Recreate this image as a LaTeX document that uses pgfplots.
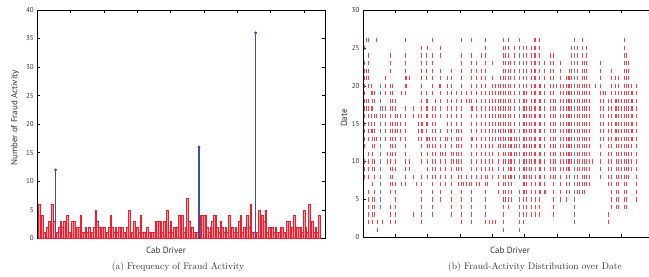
\documentclass[border=0pt]{standalone}
\usepackage{pgfplots}
\pgfplotsset{compat=1.18}
\usepackage{fontspec}
\setsansfont{PT Sans}
\definecolor{barred}{rgb}{0.93,0.12,0.18}
\definecolor{dashred}{rgb}{0.95,0.25,0.30}
\definecolor{barpink}{rgb}{0.98,0.62,0.66}
\definecolor{stemblue}{rgb}{0.22,0.32,0.66}
\definecolor{dashblue}{rgb}{0.38,0.48,0.75}
\definecolor{txt}{gray}{0.2}
\pgfplotsset{
  myax/.style={
    scale only axis,
    axis line style={black, line width=0.6bp},
    tick style={black, line width=0.5bp},
    major tick length=3bp,
    tick align=inside,
    xticklabels={},
    xtick={0,20,...,160},
    ticklabel style={font=\sffamily\fontsize{7}{8}\selectfont, text=txt},
    /pgf/number format/assume math mode=true,
    clip=true,
  }
}
\begin{document}
\begin{tikzpicture}
% ---------------- (a) ----------------
\begin{axis}[myax,
  at={(37.3bp,38.7bp)}, anchor=south west,
  width=287.7bp, height=228.3bp,
  xmin=0, xmax=172.6, ymin=0, ymax=40,
  ytick={0,5,...,40},
]
\addplot[ybar, bar width=1, bar shift=0pt, fill=barpink, draw=barred, line width=0.5bp] coordinates {
(1,6)(2,1)(3,4)(4,1)(5,1)(6,2)(7,3)(8,1)(9,6)(10,3)
(12,1)(13,2)(14,3)(15,2)(16,3)(17,2)(18,4)(19,1)(20,1)
(21,3)(22,3)(23,2)(24,2)(25,2)(26,4)(27,1)(28,1)(29,2)(30,1)
(31,2)(32,1)(33,1)(34,2)(35,5)(36,3)(37,2)(38,2)(39,2)(40,2)
(41,1)(42,1)(43,2)(44,4)(45,2)(46,1)(47,2)(48,1)(49,2)(50,1)
(51,2)(52,1)(53,1)(54,2)(55,5)(56,1)(57,1)(58,3)(59,1)(60,2)
(61,1)(62,4)(63,1)(64,1)(65,1)(66,2)(67,1)(68,1)(69,1)(70,1)
(71,3)(72,3)(73,3)(74,3)(75,1)(76,3)(77,3)(78,5)(79,1)(80,3)
(81,1)(82,2)(83,1)(84,2)(85,4)(86,1)(87,4)(88,1)(89,2)(90,7)
(91,3)(92,1)(93,2)(94,1)(95,1)(96,1)(98,4)(99,4)(100,4)
(101,4)(102,2)(103,1)(104,2)(105,3)(106,4)(107,4)(108,2)(109,1)(110,3)
(111,2)(112,1)(113,2)(114,1)(115,4)(116,1)(117,2)(118,1)(119,2)(120,1)
(121,3)(122,4)(123,1)(124,2)(125,2)(126,4)(127,2)(128,6)(129,1)(130,1)
(132,1)(133,5)(134,1)(135,4)(136,3)(137,5)(138,1)(139,2)(140,1)
(141,2)(142,1)(143,2)(144,1)(145,1)(146,2)(147,2)(148,1)(149,1)(150,3)
(151,3)(152,2)(153,2)(154,4)(155,2)(156,2)(157,2)(158,2)(159,1)(160,5)
(161,2)(162,1)(163,6)(164,2)(165,3)(166,1)(167,2)(168,1)(169,4)
};
\addplot[ycomb, stemblue, line width=1.2bp, mark=*, mark size=0.7bp] coordinates {(11,12)(97,16)(131,36)};
\end{axis}
% ---------------- (b) ----------------
\begin{axis}[myax,
  at={(363bp,39.7bp)}, anchor=south west,
  width=290.7bp, height=227.3bp,
  xmin=0, xmax=180, ymin=0, ymax=30,
  ytick={0,5,...,30},
]
\addplot[only marks, mark=|, mark size=2.1bp, color=dashred, mark options={line width=0.7bp}] coordinates {
(1,8)(1,9)(1,10)(1,12)(1,13)(1,14)(1,15)(1,16)(1,17)(1,18)(1,19)(1,20)(1,21)(1,22)(1,23)(1,25)
(2,17)(2,18)(2,21)(2,22)(2,26)
(3,2)(3,3)(3,4)(3,5)(3,6)(3,8)(3,9)(3,10)(3,11)(3,13)(3,14)(3,15)(3,16)(3,17)(3,18)(3,20)(3,21)(3,22)(3,23)(3,24)(3,26)
(5,14)(5,15)(5,16)(5,17)(5,19)(5,20)
(6,2)(6,3)(6,4)(6,5)(6,7)(6,9)(6,10)(6,11)(6,12)(6,13)(6,14)(6,17)(6,18)(6,19)
(7,3)(7,4)(7,5)(7,6)(7,8)(7,9)(7,10)(7,12)(7,13)(7,14)(7,15)(7,16)(7,18)(7,19)
(8,13)(8,16)(8,26)
(9,1)(9,2)
(12,2)(12,16)(12,17)
(14,13)(14,14)(14,15)(14,16)(14,17)(14,19)(14,20)(14,21)
(15,10)(15,11)
(17,2)(17,3)(17,4)(17,6)(17,7)(17,8)(17,9)(17,10)(17,11)(17,12)(17,13)(17,14)(17,15)(17,16)(17,17)(17,18)(17,19)(17,20)(17,22)(17,23)(17,24)
(18,7)(18,8)(18,9)(18,11)(18,12)(18,13)(18,14)(18,15)(18,17)(18,18)(18,19)(18,20)
(20,2)(20,3)(20,4)(20,5)(20,6)(20,7)(20,9)(20,10)(20,11)(20,12)(20,13)(20,14)(20,15)(20,16)(20,17)(20,18)
(21,14)(21,15)(21,16)
(23,13)(23,14)(23,15)(23,16)
(24,7)(24,19)
(26,7)(26,8)(26,9)(26,10)(26,11)(26,12)(26,13)(26,14)(26,15)(26,16)(26,17)(26,19)(26,20)(26,21)(26,22)(26,23)(26,24)(26,26)
(27,20)(27,21)
(29,9)(29,10)(29,21)
(31,3)(31,8)(31,16)(31,17)
(33,7)
(34,13)(34,14)(34,15)(34,16)
(36,2)(36,3)(36,4)(36,5)(36,6)(36,7)(36,8)(36,10)(36,11)(36,12)(36,13)(36,14)(36,15)(36,16)(36,17)(36,18)(36,19)(36,20)(36,21)(36,22)(36,23)(36,24)(36,25)
(37,14)(37,15)
(39,13)(39,14)(39,15)(39,16)(39,17)(39,18)(39,19)(39,21)(39,22)(39,23)(39,24)
(40,8)(40,9)(40,10)(40,11)(40,12)(40,13)(40,15)(40,16)(40,17)(40,18)(40,25)
(41,12)(41,13)
(43,3)(43,4)(43,5)(43,6)(43,7)(43,8)(43,9)(43,10)(43,11)(43,12)(43,13)(43,14)(43,15)(43,16)(43,17)(43,19)(43,20)(43,21)(43,22)(43,23)(43,24)(43,26)
(45,8)(45,9)(45,10)(45,11)(45,12)(45,13)(45,14)(45,15)(45,16)(45,17)(45,18)
(47,20)
(48,5)(48,6)(48,7)(48,8)(48,9)(48,10)(48,11)(48,12)(48,13)(48,14)(48,16)(48,17)(48,18)(48,19)(48,20)(48,21)(48,22)(48,24)(48,25)
(49,11)
(51,7)(51,8)(51,9)(51,10)(51,11)(51,12)(51,13)
(52,13)(52,14)(52,15)(52,16)(52,17)(52,18)(52,19)(52,20)(52,21)
(55,3)(55,4)(55,5)(55,6)(55,7)(55,8)(55,9)(55,10)(55,11)(55,12)(55,13)(55,14)(55,15)(55,16)(55,17)(55,18)(55,19)(55,20)(55,21)(55,22)
(56,10)(56,11)
(58,9)(58,10)(58,11)(58,12)(58,13)(58,14)(58,15)(58,16)(58,17)(58,18)(58,19)
(59,7)(59,8)(59,9)(59,10)(59,11)(59,12)(59,13)(59,14)
(61,2)(61,3)(61,4)(61,5)(61,6)(61,7)(61,8)(61,9)(61,10)(61,11)(61,12)(61,13)(61,14)(61,15)(61,16)(61,17)(61,18)(61,19)(61,20)(61,21)(61,22)(61,23)(61,24)(61,26)
(62,7)
(64,7)(64,8)(64,18)(64,19)
(66,7)(66,18)
(67,2)(67,3)(67,4)(67,5)(67,6)(67,7)(67,8)(67,9)(67,10)(67,11)(67,12)(67,13)(67,14)(67,15)(67,16)(67,17)(67,18)(67,19)(67,20)(67,21)(67,22)(67,23)(67,24)(67,26)
(68,13)(68,17)
(70,7)(70,8)(70,9)(70,10)(70,11)(70,12)(70,13)(70,14)(70,15)(70,16)(70,17)(70,18)(70,19)(70,20)(70,21)(70,22)(70,23)
(72,7)
(73,8)(73,9)(73,10)(73,11)(73,12)(73,13)(73,14)(73,15)(73,16)(73,17)(73,18)(73,19)(73,20)(73,21)(73,22)(73,24)
(76,2)(76,3)(76,4)(76,5)(76,6)(76,7)(76,8)(76,9)(76,10)(76,11)(76,12)(76,13)(76,14)(76,15)(76,16)(76,17)(76,18)(76,19)(76,20)(76,21)(76,22)(76,23)(76,24)(76,25)(76,26)
(77,7)(77,8)
(78,2)(78,9)(78,10)(78,11)(78,12)(78,13)(78,14)(78,15)(78,16)(78,17)(78,18)(78,19)
(80,2)(80,8)(80,9)(80,10)(80,11)(80,12)(80,13)(80,14)(80,15)(80,16)(80,17)(80,18)(80,19)(80,20)(80,21)(80,23)
(82,2)(82,13)(82,14)(82,15)(82,16)(82,17)(82,18)(82,19)(82,20)
(84,6)(84,7)(84,8)(84,9)(84,10)(84,11)(84,12)(84,13)(84,14)(84,15)(84,16)(84,17)(84,18)(84,19)(84,20)
(85,12)(85,13)(85,14)(85,15)(85,16)(85,17)(85,18)(85,19)(85,20)(85,21)
(87,1)(87,2)(87,3)(87,4)(87,5)(87,6)(87,7)(87,8)(87,9)(87,10)(87,11)(87,12)(87,13)(87,14)(87,15)(87,16)(87,17)(87,18)(87,19)(87,20)(87,21)(87,22)(87,23)(87,24)(87,25)(87,26)
(88,5)(88,6)(88,7)(88,8)(88,10)(88,11)(88,12)(88,13)(88,14)(88,15)(88,16)(88,17)(88,18)(88,19)(88,20)(88,21)(88,22)(88,23)(88,24)(88,25)
(90,4)(90,5)(90,6)(90,7)(90,8)(90,9)(90,10)(90,11)(90,12)(90,13)(90,14)(90,15)(90,16)(90,17)(90,18)(90,19)(90,20)(90,21)(90,22)(90,23)(90,24)(90,25)(90,26)
(91,8)(91,9)(91,10)(91,11)(91,12)(91,13)(91,14)(91,15)(91,16)(91,17)(91,18)(91,19)(91,20)(91,21)(91,22)(91,23)
(92,5)(92,6)(92,7)(92,8)(92,9)(92,10)(92,11)(92,12)(92,13)(92,14)
(94,8)(94,9)(94,10)(94,11)(94,12)(94,13)(94,14)(94,15)(94,16)(94,17)(94,18)(94,19)(94,20)(94,21)(94,22)(94,23)(94,24)(94,25)
(95,11)(95,12)(95,13)
(99,2)(99,3)(99,4)(99,5)(99,6)(99,7)(99,8)(99,9)(99,10)(99,11)(99,12)(99,13)(99,14)(99,15)(99,16)(99,17)(99,18)(99,19)(99,20)(99,21)(99,22)(99,23)(99,24)(99,25)
(100,6)(100,7)(100,8)(100,9)(100,10)(100,11)(100,12)(100,13)(100,14)(100,15)(100,16)(100,17)(100,18)(100,19)
(101,3)(101,4)(101,5)(101,6)(101,7)(101,8)(101,9)(101,10)(101,11)(101,12)(101,13)(101,14)(101,15)(101,16)(101,17)(101,18)(101,19)(101,20)(101,21)(101,22)(101,23)(101,24)(101,25)
(103,8)(103,9)(103,10)(103,11)(103,12)(103,13)(103,14)(103,15)(103,16)(103,17)
(104,3)(104,4)(104,5)(104,6)(104,7)(104,8)(104,9)(104,10)(104,11)(104,12)(104,13)(104,14)(104,15)(104,16)(104,17)(104,18)(104,19)(104,20)(104,21)(104,22)(104,23)(104,24)(104,25)
(106,10)(106,11)(106,12)(106,13)(106,14)(106,15)(106,16)(106,17)(106,18)(106,19)(106,20)(106,21)(106,22)(106,23)(106,24)(106,25)(106,26)
(107,3)(107,4)(107,5)(107,6)(107,7)(107,8)(107,9)(107,10)(107,11)(107,12)(107,13)(107,14)(107,15)(107,16)(107,17)(107,18)(107,19)(107,20)(107,21)(107,22)(107,23)(107,24)(107,25)(107,26)
(109,3)(109,4)(109,5)(109,6)(109,7)(109,8)(109,9)(109,10)(109,11)(109,12)(109,13)(109,14)(109,15)(109,16)(109,17)(109,18)(109,19)(109,20)(109,21)(109,22)(109,23)(109,24)(109,25)(109,26)
(110,6)(110,7)(110,8)(110,9)(110,10)(110,11)(110,12)(110,13)(110,14)(110,15)(110,16)(110,17)(110,18)(110,19)(110,20)
(112,6)(112,7)(112,8)(112,9)(112,10)(112,11)(112,12)(112,13)(112,14)(112,15)(112,16)(112,17)(112,18)(112,19)(112,20)(112,21)(112,22)(112,23)
(113,6)
(116,8)(116,9)(116,10)(116,11)(116,12)(116,13)(116,14)(116,15)(116,16)(116,17)(116,18)(116,19)(116,20)(116,21)(116,22)(116,23)(116,24)
(118,3)(118,4)(118,5)(118,6)(118,7)(118,8)(118,9)(118,10)(118,11)(118,12)(118,13)(118,14)(118,15)(118,16)(118,17)(118,18)(118,19)(118,20)(118,21)(118,22)(118,23)(118,24)
(119,8)(119,9)(119,10)(119,11)(119,12)(119,13)(119,14)(119,15)(119,16)(119,17)(119,18)
(120,20)
(122,5)(122,6)(122,7)(122,8)(122,9)(122,10)(122,11)(122,12)(122,13)(122,14)(122,15)(122,16)(122,17)(122,18)(122,19)(122,20)(122,21)(122,22)(122,23)
(124,9)(124,10)(124,11)(124,12)(124,13)(124,14)(124,15)(124,16)(124,17)(124,18)(124,19)(124,20)
(126,5)(126,6)(126,7)(126,8)(126,9)(126,10)(126,11)(126,12)(126,13)(126,14)(126,15)(126,16)(126,17)(126,18)(126,19)(126,20)(126,21)
(127,9)(127,10)(127,11)(127,12)(127,13)(127,14)(127,15)(127,16)(127,17)(127,18)(127,19)(127,20)(127,21)
(128,6)(128,7)(128,8)(128,9)(128,10)(128,11)(128,12)(128,13)(128,14)(128,15)(128,16)(128,17)(128,18)(128,19)(128,20)(128,21)(128,22)
(129,10)(129,11)(129,12)(129,13)(129,14)(129,15)(129,16)(129,17)(129,18)(129,19)(129,20)(129,21)(129,22)(129,23)(129,24)(129,25)
(133,6)(133,7)(133,8)(133,9)(133,10)(133,11)(133,12)(133,13)(133,14)(133,15)(133,16)(133,17)(133,18)(133,19)(133,20)(133,21)(133,22)(133,23)(133,24)(133,25)
(134,6)(134,7)(134,9)(134,10)(134,11)(134,12)(134,13)(134,14)(134,15)(134,16)(134,17)(134,18)(134,19)(134,20)
(136,6)(136,7)(136,8)(136,9)(136,10)(136,11)(136,12)(136,13)(136,14)(136,15)(136,16)(136,17)(136,18)(136,19)(136,20)(136,21)(136,22)(136,23)(136,24)(136,25)(136,26)
(137,6)(137,7)(137,8)(137,9)(137,10)(137,11)(137,12)(137,13)(137,14)(137,15)(137,16)(137,17)(137,18)(137,19)(137,20)(137,21)(137,22)(137,23)
(138,7)(138,8)(138,9)(138,10)(138,11)(138,12)(138,13)(138,14)(138,15)(138,16)(138,17)(138,18)(138,19)(138,20)(138,21)(138,22)(138,23)(138,24)(138,25)
(140,7)(140,8)(140,9)(140,10)(140,11)(140,12)(140,13)(140,14)(140,15)(140,16)(140,17)(140,18)(140,19)(140,20)
(142,10)
(144,20)
(147,8)(147,9)(147,10)(147,11)(147,12)(147,13)(147,14)(147,15)(147,16)(147,17)(147,18)(147,19)(147,20)(147,21)(147,22)(147,23)
(149,13)(149,14)(149,15)(149,16)(149,17)(149,18)(149,19)
(150,19)
(152,2)(152,3)(152,7)(152,8)(152,9)(152,10)(152,11)(152,12)(152,13)(152,14)(152,15)(152,16)(152,17)(152,18)
(154,4)(154,5)(154,6)(154,7)(154,8)(154,9)(154,10)(154,11)(154,12)(154,13)(154,14)(154,15)(154,16)(154,17)(154,18)(154,19)(154,20)(154,21)(154,22)
(156,13)(156,14)(156,15)(156,16)(156,17)(156,18)(156,19)(156,20)(156,21)
(157,4)(157,5)(157,6)(157,7)(157,8)(157,9)(157,10)(157,11)(157,12)(157,13)(157,14)(157,15)(157,16)(157,17)(157,18)
(158,4)(158,5)(158,6)(158,7)(158,8)(158,9)(158,10)(158,11)(158,12)(158,13)(158,14)(158,15)(158,16)(158,17)(158,18)(158,19)(158,20)(158,21)
(160,8)(160,9)(160,10)(160,11)(160,12)(160,13)(160,14)(160,15)(160,16)(160,17)(160,18)(160,19)
(162,4)(162,5)(162,6)(162,7)(162,8)(162,9)(162,10)(162,11)(162,12)(162,13)(162,14)(162,15)(162,16)(162,17)(162,18)(162,19)(162,20)(162,21)(162,22)(162,23)(162,24)(162,25)(162,26)
(163,4)(163,5)(163,6)(163,7)(163,8)(163,9)(163,10)(163,11)(163,12)(163,13)(163,14)(163,15)(163,16)(163,17)(163,18)(163,19)(163,20)(163,21)(163,22)(163,23)(163,24)
(164,8)(164,9)(164,10)(164,11)(164,12)(164,13)(164,14)(164,15)(164,16)(164,17)(164,18)(164,19)(164,20)(164,21)(164,22)(164,23)
(166,9)(166,10)(166,11)(166,12)(166,13)(166,14)(166,15)(166,16)(166,17)(166,18)(166,19)(166,20)
(167,13)(167,14)(167,15)(167,16)(167,17)(167,18)(167,19)
(169,5)(169,6)(169,7)(169,8)(169,9)(169,10)(169,11)(169,12)(169,13)(169,14)(169,15)(169,16)(169,17)(169,18)(169,19)(169,20)
};
\addplot[only marks, mark=|, mark size=2.1bp, color=dashblue, mark options={line width=0.8bp}] coordinates {
(11,4)(11,5)(11,6)(11,7)(11,8)(11,9)(11,10)(11,11)(11,12)(11,13)(11,14)(11,15)(11,16)(11,17)(11,18)(11,19)(11,20)
(97,1)(97,2)(97,3)(97,4)(97,5)(97,6)(97,8)(97,9)(97,10)(97,11)(97,12)(97,13)(97,14)(97,15)(97,16)(97,17)(97,18)(97,19)(97,20)(97,21)(97,22)(97,23)(97,24)(97,25)(97,26)
(131,2)(131,3)(131,4)(131,5)(131,6)(131,7)(131,8)(131,9)(131,10)(131,11)(131,12)(131,13)(131,14)(131,15)(131,16)(131,17)(131,18)(131,19)(131,20)(131,21)(131,22)(131,23)(131,24)(131,25)(131,26)
};
\end{axis}
% labels and captions
\node[font=\sffamily\fontsize{9}{10}\selectfont, text=txt, rotate=90] at (15bp,159bp) {Number of Fraud Activity};
\node[font=\sffamily\fontsize{9}{10}\selectfont, text=txt, rotate=90] at (344bp,159bp) {Date};
\node[font=\sffamily\fontsize{9}{10}\selectfont, text=txt] at (166bp,27bp) {Cab Driver};
\node[font=\sffamily\fontsize{9}{10}\selectfont, text=txt] at (510bp,27bp) {Cab Driver};
\node[font=\fontsize{9.5}{11}\selectfont, text=txt] at (178bp,10bp) {(a) Frequency of Fraud Activity};
\node[font=\fontsize{9.5}{11}\selectfont, text=txt] at (535bp,10bp) {(b) Fraud-Activity Distribution over Date};
\pgfresetboundingbox
\path[use as bounding box] (0,0) rectangle (649bp,277bp);
\end{tikzpicture}
\end{document}
